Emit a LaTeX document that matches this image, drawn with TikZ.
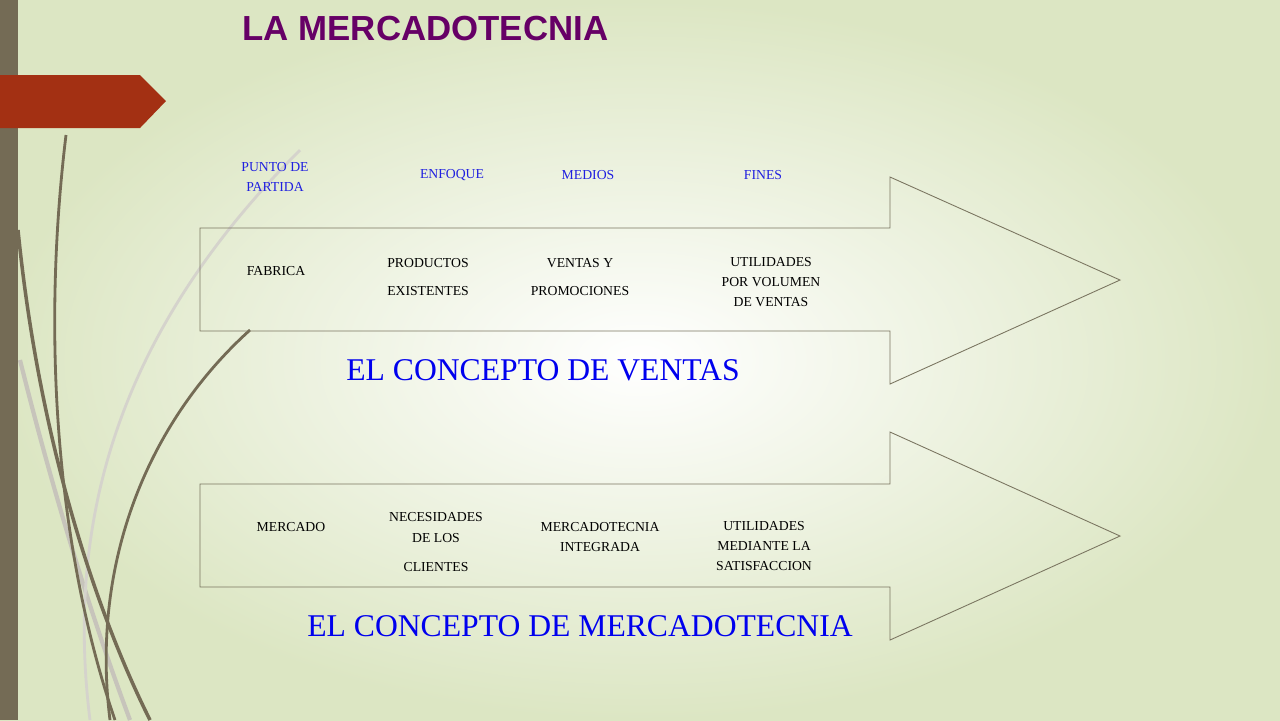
\documentclass[tikz,border=0pt]{standalone}
\usepackage{fontspec}
\setmainfont{Liberation Serif}
\newfontfamily\titlefont{Liberation Sans}
\definecolor{bgedge}{HTML}{DCE6C3}
\definecolor{barcol}{HTML}{746B55}
\definecolor{redcol}{HTML}{A33013}
\definecolor{titlecol}{HTML}{660066}
\definecolor{labblue}{HTML}{2020E0}
\definecolor{bigblue}{HTML}{0000EE}
\definecolor{arrline}{HTML}{7A7560}
\begin{document}
\begin{tikzpicture}[x=0.01cm,y=-0.01cm,
    lab/.style={font=\fontsize{3.9pt}{5.8pt}\selectfont,align=center,inner sep=0pt},
    head/.style={lab,text=labblue},
    big/.style={font=\fontsize{9pt}{10pt}\selectfont,text=bigblue,inner sep=0pt},
    fatarrow/.style={draw=arrline,line width=0.25pt}]
    \useasboundingbox (0,0) rectangle (1280,720);
    \shade[inner color=white,outer color=bgedge] (0,0) rectangle (1280,720);
    % decorative curves
    \draw[barcol!40,line width=1.2pt] (20,360) .. controls (60,520) and (100,640) .. (130,720);
    \draw[barcol!30,line width=0.8pt] (300,150) .. controls (150,300) and (60,480) .. (90,720);
    \draw[barcol,line width=0.8pt] (66,135) .. controls (40,350) and (60,560) .. (115,720);
    \draw[barcol,line width=1pt] (18,230) .. controls (40,450) and (100,620) .. (150,720);
    \draw[barcol,line width=0.8pt] (250,330) .. controls (150,420) and (90,560) .. (110,720);
    \fill[barcol] (0,0) rectangle (18,720);
    \fill[redcol] (0,75) -- (140,75) -- (166,101) -- (140,128) -- (0,128) -- cycle;
    \node[font=\titlefont\bfseries\fontsize{9.9pt}{11pt}\selectfont,text=titlecol,anchor=west,inner sep=0pt] (title) at (242,29) {LA MERCADOTECNIA};
    % column headings
    \node[head] (hpunto) at (275,177) {PUNTO DE\\PARTIDA};
    \node[head] (henfoque) at (452,175) {ENFOQUE};
    \node[head] (hmedios) at (588,175) {MEDIOS};
    \node[head] (hfines) at (763,175) {FINES};
    % sales arrow
    \draw[fatarrow] (200,228) -- (890,228) -- (890,177) -- (1120,280) -- (890,384) -- (890,331) -- (200,331) -- cycle;
    \node[lab] (fabrica) at (276,271) {FABRICA};
    \node[lab] (productos) at (428,277) {PRODUCTOS\\[2.4pt]EXISTENTES};
    \node[lab] (ventas) at (580,277) {VENTAS Y\\[2.4pt]PROMOCIONES};
    \node[lab] (utilv) at (771,282) {UTILIDADES\\POR VOLUMEN\\DE VENTAS};
    \node[big] (cventas) at (543,370) {EL CONCEPTO DE VENTAS};
    % marketing arrow
    \draw[fatarrow] (200,484) -- (890,484) -- (890,432) -- (1120,536) -- (890,640) -- (890,587) -- (200,587) -- cycle;
    \node[lab] (mercado) at (291,527) {MERCADO};
    \node[lab] (necesidades) at (436,542) {NECESIDADES\\DE LOS\\[2.4pt]CLIENTES};
    \node[lab] (integrada) at (600,537) {MERCADOTECNIA\\INTEGRADA};
    \node[lab] (utilm) at (764,546) {UTILIDADES\\MEDIANTE LA\\SATISFACCION};
    \node[big] (cmerc) at (580,626) {EL CONCEPTO DE MERCADOTECNIA};
\end{tikzpicture}
\end{document}
